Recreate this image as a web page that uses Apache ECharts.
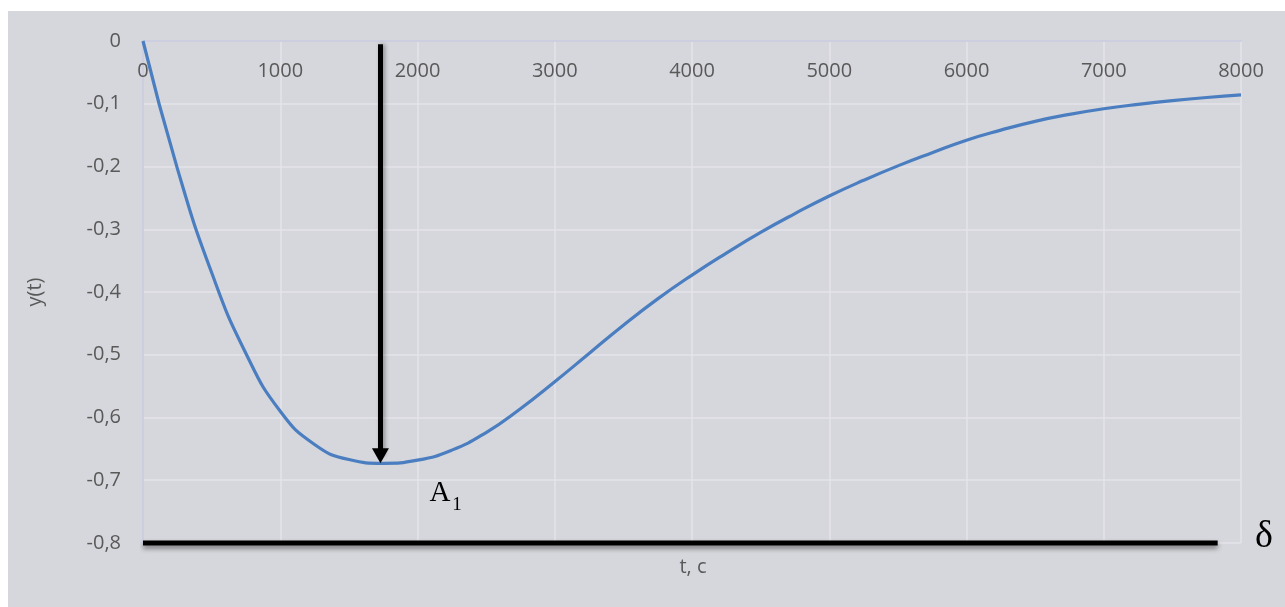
<!DOCTYPE html>
<html>
<head>
<meta charset="utf-8">
<script src="https://cdn.jsdelivr.net/npm/echarts@6/dist/echarts.min.js"></script>
<style>
  html, body { margin: 0; padding: 0; background: #ffffff; }
  #chart { position: absolute; left: 8px; top: 11px; width: 1277px; height: 596px; background: #d6d7dc; }
</style>
</head>
<body>
<div id="chart"></div>
<script>
// Response curve y(t), time t in seconds, sampled every 250 s
const timeValues = [0, 250, 500, 750, 1000, 1250, 1500, 1750, 2000, 2250, 2500, 2750, 3000, 3250, 3500, 3750, 4000, 4250, 4500, 4750, 5000, 5250, 5500, 5750, 6000, 6250, 6500, 6750, 7000, 7250, 7500, 7750, 8000];
const responseValues = [0, -0.203, -0.369, -0.498, -0.590, -0.643, -0.667, -0.673, -0.668, -0.652, -0.624, -0.586, -0.543, -0.498, -0.453, -0.411, -0.373, -0.338, -0.305, -0.275, -0.247, -0.222, -0.199, -0.178, -0.158, -0.142, -0.128, -0.117, -0.108, -0.101, -0.095, -0.090, -0.086];

// Reference level δ and the arrow pointing at the extremum A1
const deltaLevel = -0.8;
const deltaEndTime = 7830;
const extremumTime = 1730;
const arrowTop = -0.005;
const arrowBottom = -0.661;

const xTicks = { min: 0, max: 8000, interval: 1000 };
const yTicks = { min: -0.8, max: 0, interval: 0.1 };

const curve = timeValues.map((t, i) => [t, responseValues[i]]);

const chart = echarts.init(document.getElementById('chart'));
const labelColor = '#595959';
const font = '"Open Sans", "Liberation Sans", sans-serif';

chart.setOption({
  animation: false,
  grid: { left: 135, right: 44, top: 30, bottom: 64 },
  xAxis: {
    type: 'value',
    position: 'top',
    min: xTicks.min, max: xTicks.max, interval: xTicks.interval,
    axisLine: { onZero: false, lineStyle: { color: '#c6c7dd', width: 1.5 } },
    axisTick: { show: false },
    axisLabel: { inside: true, color: labelColor, fontSize: 20, fontFamily: font, margin: 20, formatter: v => String(v) },
    splitLine: { show: true, lineStyle: { color: '#e3e3ea', width: 1.5 } }
  },
  yAxis: {
    type: 'value',
    min: yTicks.min, max: yTicks.max, interval: yTicks.interval,
    axisLine: { show: true, lineStyle: { color: '#c6c7dd', width: 1.5 } },
    axisTick: { show: false },
    axisLabel: {
      color: labelColor, fontSize: 20, fontFamily: font, margin: 22,
      formatter: v => (Math.abs(v) < 1e-9 ? '0' : v.toFixed(1).replace('.', ','))
    },
    splitLine: { show: true, lineStyle: { color: '#e3e3ea', width: 1.5 } }
  },
  series: [
    {
      type: 'line',
      data: curve,
      smooth: 0.5,
      showSymbol: false,
      clip: false,
      lineStyle: { color: '#4a7ec0', width: 3.2 },
      z: 3,
      markLine: {
        silent: true,
        symbol: ['none', 'triangle'],
        symbolSize: [17, 15],
        label: { show: false },
        lineStyle: {
          color: '#000000', width: 5, type: 'solid',
          shadowColor: 'rgba(0,0,0,0.35)', shadowBlur: 4, shadowOffsetX: 2
        },
        data: [[{ coord: [extremumTime, arrowTop] }, { coord: [extremumTime, arrowBottom] }]]
      }
    },
    {
      type: 'line',
      data: [[0, deltaLevel], [deltaEndTime, deltaLevel]],
      showSymbol: false,
      clip: false,
      lineStyle: {
        color: '#000000', width: 5,
        shadowColor: 'rgba(0,0,0,0.45)', shadowBlur: 5, shadowOffsetY: 3
      },
      z: 4
    }
  ],
  graphic: [
    {
      type: 'text', x: 27, y: 281, rotation: Math.PI / 2,
      style: { text: 'y(t)', fill: labelColor, font: '20px ' + font, textAlign: 'center', textVerticalAlign: 'middle' }
    },
    {
      type: 'text', x: 685, y: 556,
      style: { text: 't, c', fill: labelColor, font: '20px ' + font, textAlign: 'center', textVerticalAlign: 'middle' }
    },
    {
      type: 'text', x: 432, y: 482,
      style: { text: 'A', fill: '#000000', font: '29px "Liberation Serif", "DejaVu Serif", serif', textAlign: 'center', textVerticalAlign: 'middle' }
    },
    {
      type: 'text', x: 449, y: 494,
      style: { text: '1', fill: '#000000', font: '19px "Liberation Serif", "DejaVu Serif", serif', textAlign: 'center', textVerticalAlign: 'middle' }
    },
    {
      type: 'text', x: 1256, y: 526,
      style: { text: 'δ', fill: '#000000', font: '38px "Liberation Serif", "DejaVu Serif", serif', textAlign: 'center', textVerticalAlign: 'middle' }
    }
  ]
});
</script>
</body>
</html>
